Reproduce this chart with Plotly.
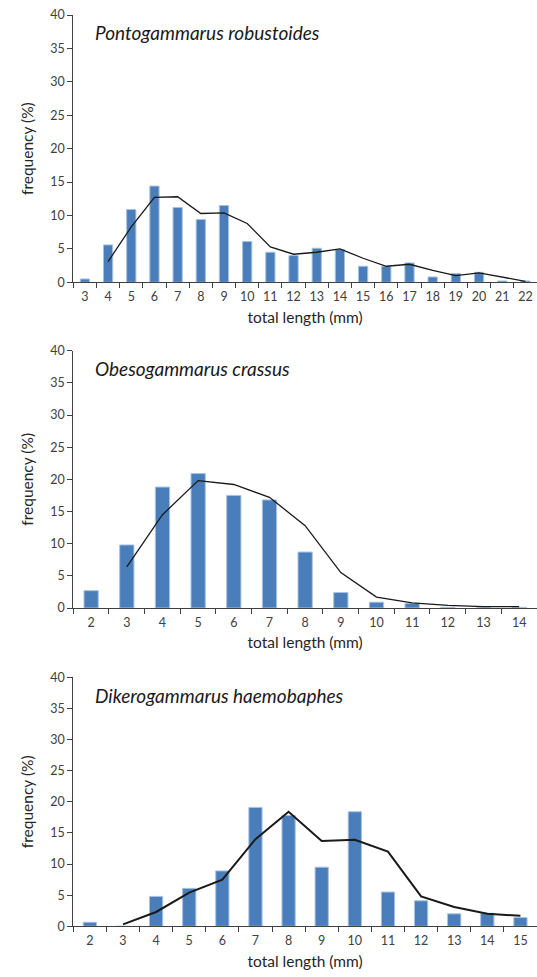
import plotly.graph_objects as go

# ---- data ----
title1 = "Pontogammarus robustoides"
cats1 = [str(i) for i in range(3, 23)]
bars1 = [0.5, 5.6, 10.9, 14.4, 11.2, 9.4, 11.5, 6.1, 4.5, 4.0, 5.1, 4.9, 2.4, 2.4, 2.9, 0.8, 1.3, 1.5, 0.2, 0.2]
line1_x = [str(i) for i in range(4, 23)]
line1_y = [3.1, 8.3, 12.7, 12.8, 10.3, 10.4, 8.8, 5.3, 4.2, 4.5, 5.0, 3.6, 2.4, 2.7, 1.8, 1.0, 1.4, 0.8, 0.15]

title2 = "Obesogammarus crassus"
cats2 = [str(i) for i in range(2, 15)]
bars2 = [2.7, 9.8, 18.8, 20.9, 17.5, 16.8, 8.7, 2.4, 0.9, 0.7, 0.1, 0.05, 0.1]
line2_x = [str(i) for i in range(3, 15)]
line2_y = [6.4, 14.5, 19.8, 19.2, 17.2, 12.8, 5.5, 1.7, 0.8, 0.4, 0.2, 0.2]

title3 = "Dikerogammarus haemobaphes"
cats3 = [str(i) for i in range(2, 16)]
bars3 = [0.65, 0, 4.8, 6.1, 8.9, 19.1, 17.8, 9.5, 18.4, 5.5, 4.1, 2.0, 2.1, 1.4]
line3_x = [str(i) for i in range(3, 16)]
line3_y = [0.3, 2.3, 5.4, 7.5, 14.0, 18.4, 13.7, 13.9, 12.0, 4.8, 3.1, 2.0, 1.7]

y_ticks = [0, 5, 10, 15, 20, 25, 30, 35, 40]
x_title = "total length (mm)"
y_title = "frequency (%)"

# ---- layout geometry ----
W, H = 537, 977
x_dom = [73.3 / W, 1.0]
panels = [
    (title1, cats1, bars1, line1_x, line1_y, 15.0, 282.3, 1.3),
    (title2, cats2, bars2, line2_x, line2_y, 350.7, 608.0, 1.3),
    (title3, cats3, bars3, line3_x, line3_y, 677.3, 926.3, 2.0),
]

FONT = "Lato, 'Open Sans', sans-serif"
BAR = "#4A7EBB"
BAR_EDGE = "#A9C2E0"
AX = "#404040"

fig = go.Figure()
layout = dict(
    width=W, height=H,
    margin=dict(l=0, r=0, t=0, b=0, autoexpand=False),
    paper_bgcolor="white", plot_bgcolor="white",
    showlegend=False,
    font=dict(family=FONT, color="#262626"),
    annotations=[],
)

for i, (ttl, cats, bars, lx, ly, top, bot, lw) in enumerate(panels):
    n = i + 1
    xa = "x" if n == 1 else f"x{n}"
    ya = "y" if n == 1 else f"y{n}"
    fig.add_trace(go.Bar(
        x=cats, y=bars, xaxis=xa, yaxis=ya, width=0.4,
        marker=dict(color=BAR, line=dict(color=BAR_EDGE, width=1)),
    ))
    fig.add_trace(go.Scatter(
        x=lx, y=ly, xaxis=xa, yaxis=ya, mode="lines",
        line=dict(color="#1a1a1a", width=lw),
    ))
    dom = [1 - bot / H, 1 - top / H]
    layout["xaxis" if n == 1 else f"xaxis{n}"] = dict(
        domain=x_dom, anchor=ya, type="category", automargin=False,
        categoryorder="array", categoryarray=cats,
        range=[-0.5, len(cats) - 0.5],
        showline=True, linecolor=AX, linewidth=1,
        ticks="outside", tickson="boundaries", ticklen=5, tickcolor=AX,
        ticklabelstandoff=3, tickangle=0,
        showgrid=False, zeroline=False,
        tickfont=dict(size=12.5, color="#404040"),
        title=dict(text=x_title, font=dict(size=15.5, color="#262626"), standoff=8),
    )
    layout["yaxis" if n == 1 else f"yaxis{n}"] = dict(
        domain=dom, anchor=xa, range=[0, 40], automargin=False,
        tickvals=y_ticks,
        showline=True, linecolor=AX, linewidth=1,
        ticks="outside", ticklen=5, tickcolor=AX,
        showgrid=False, zeroline=False,
        tickfont=dict(size=12.5, color="#404040"),
        title=dict(text=y_title, font=dict(size=15.5, color="#262626"), standoff=12),
    )
    layout["annotations"].append(dict(
        text=f"<i>{ttl}</i>", xref="paper", yref="paper",
        x=93 / W, y=1 - (top + 18) / H, xanchor="left", yanchor="middle",
        showarrow=False, font=dict(size=19, color="#1a1a1a", family=FONT),
    ))

fig.update_layout(**layout)
fig.write_html(
    "out.html",
    config={"displayModeBar": False},
    post_script="document.body.style.margin='0';document.body.style.overflow='hidden';",
)
